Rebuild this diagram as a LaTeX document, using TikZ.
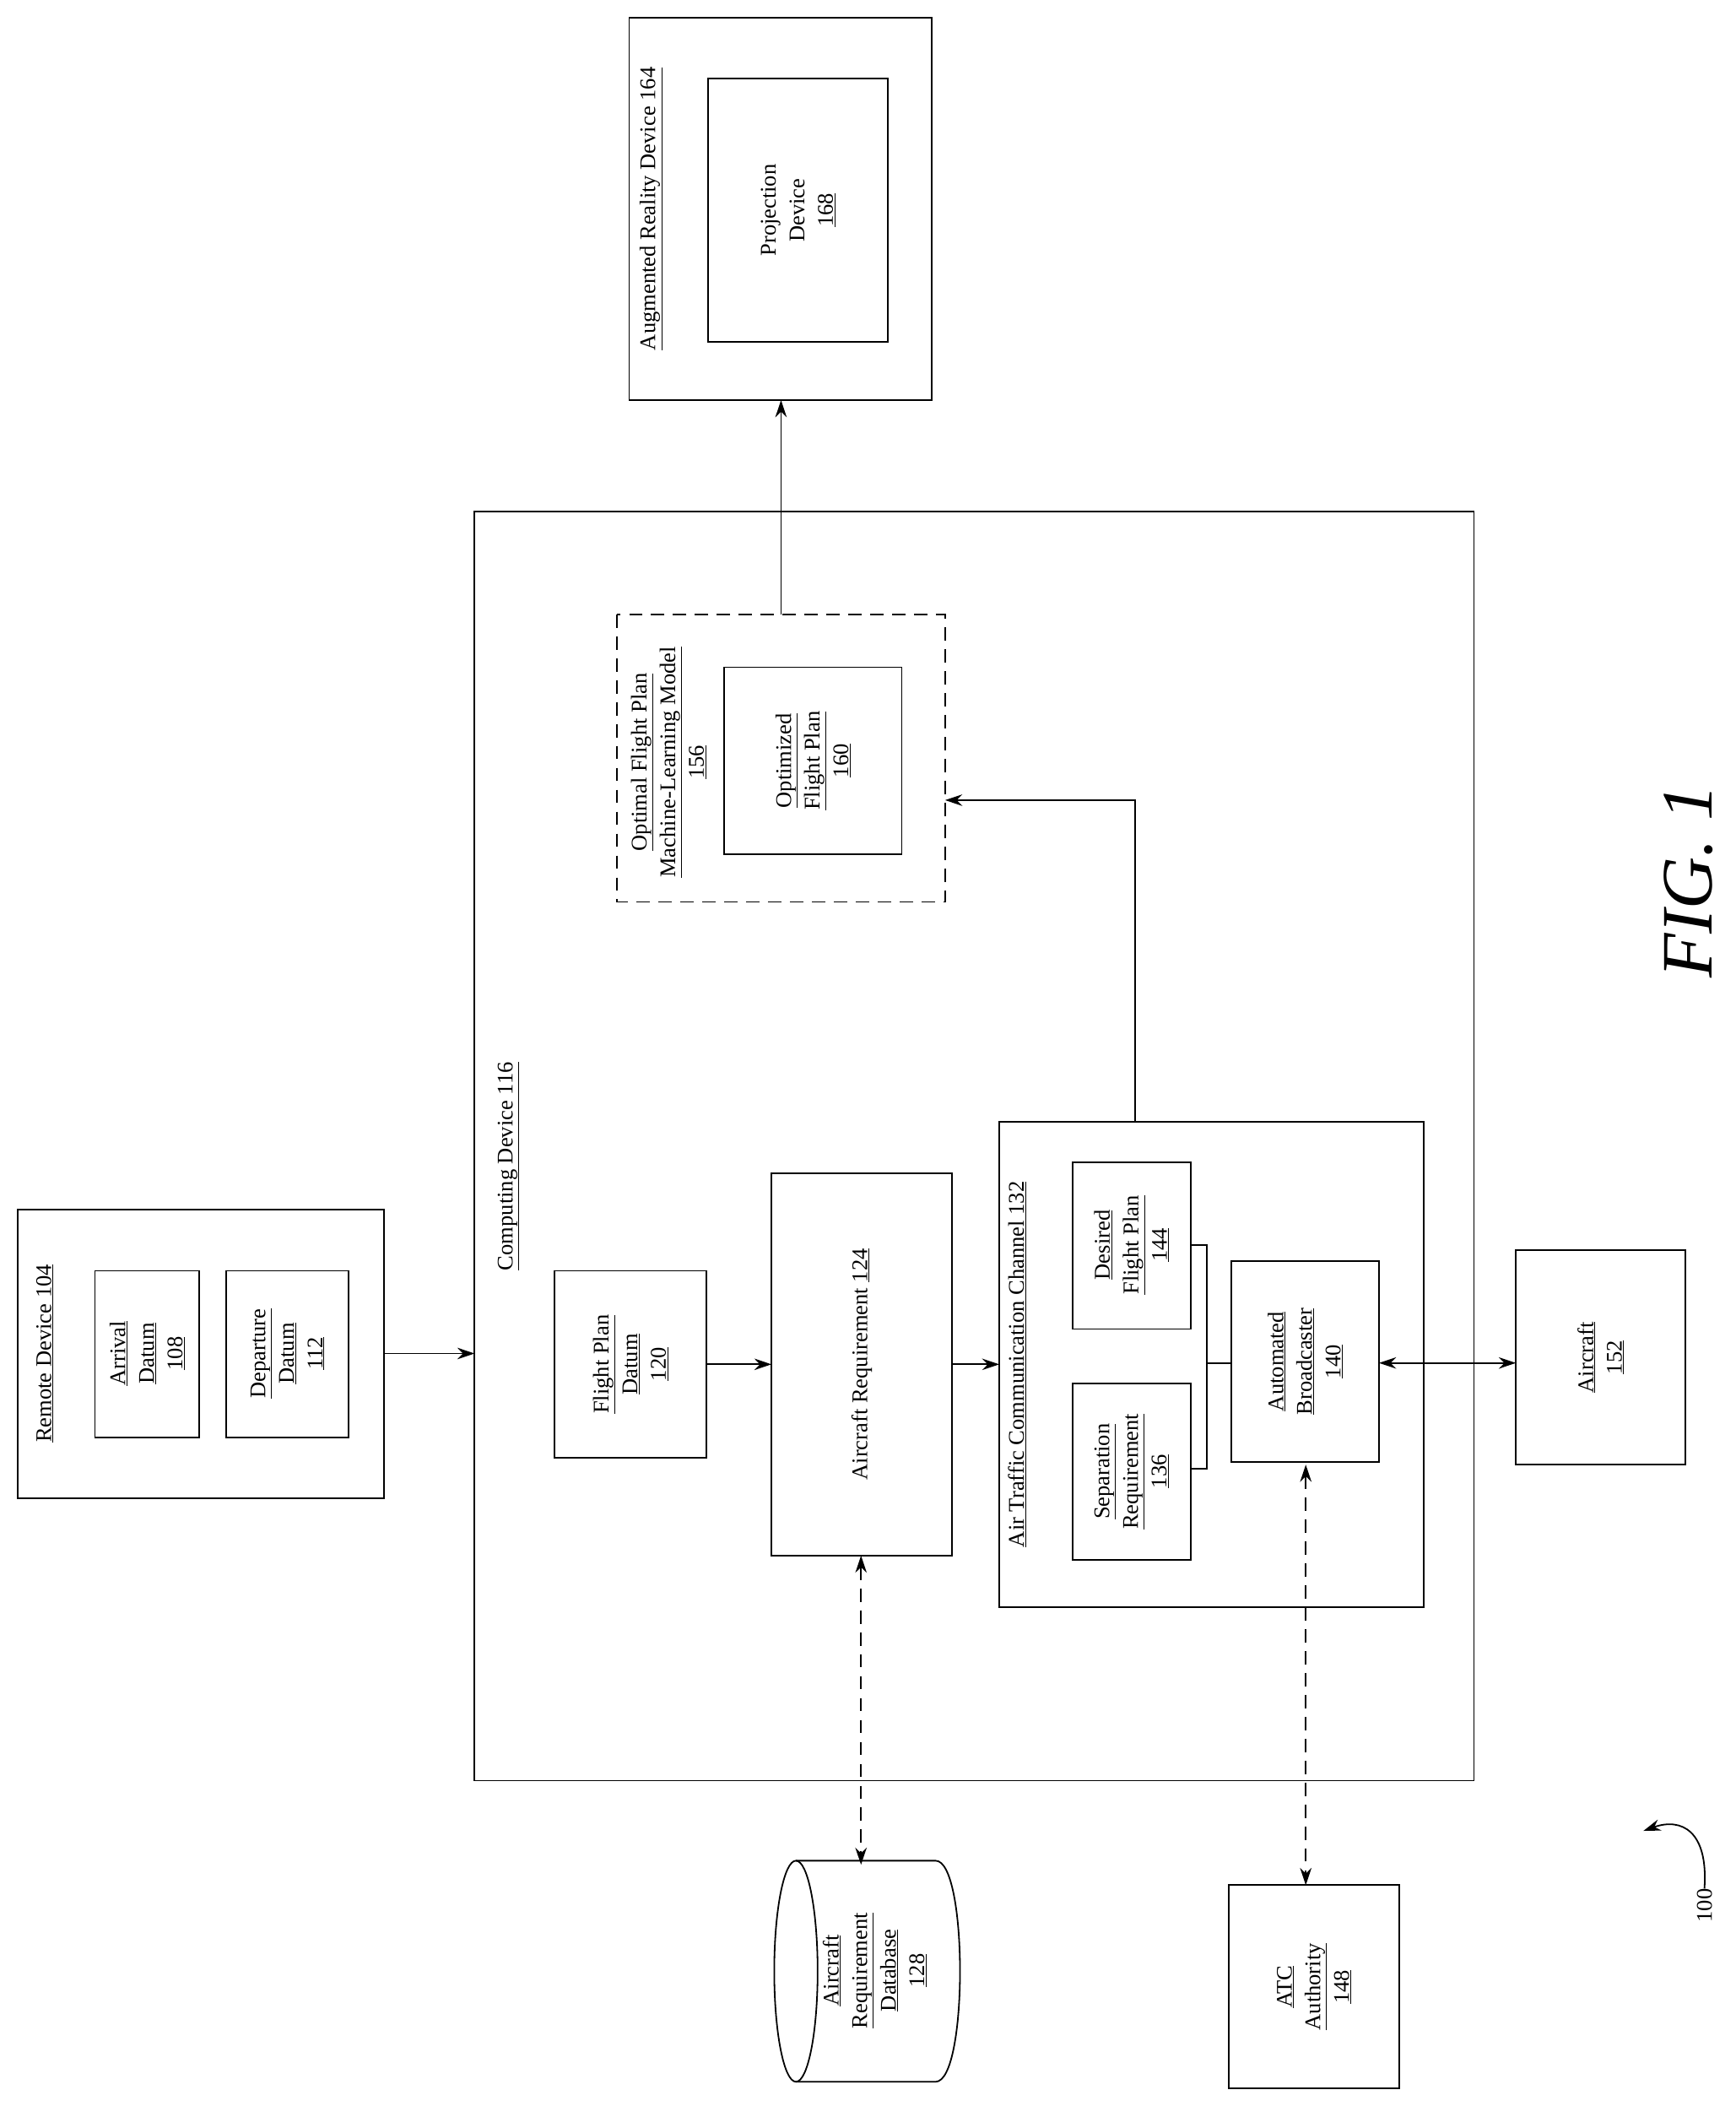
\documentclass[tikz,border=0pt]{standalone}
\usepackage{fontspec}
\setmainfont{Liberation Serif}
\usetikzlibrary{arrows.meta}
\newcommand{\ul}[1]{\underline{#1}}
\begin{document}
\begin{tikzpicture}[x=0.05cm,y=-0.05cm,
 box/.style={draw,line width=1.6pt},
 lab/.style={rotate=90,align=center,font=\fontsize{23.5}{30}\selectfont,inner sep=0},
 ar/.style={line width=1.6pt,-{Stealth[length=18pt,width=12pt]}},
 dar/.style={line width=1.6pt,{Stealth[length=18pt,width=12pt]}-{Stealth[length=18pt,width=12pt]},dash pattern=on 14pt off 9pt}]
\useasboundingbox (0,0) rectangle (1280,1561);
% Remote
\draw[box] (13,892) rectangle (283,1105);
\node[lab] (rl) at (33,998) {\ul{Remote Device 104}};
\draw[box] (70,937) rectangle (147,1060); \node[lab] at (108.5,998) {\ul{Arrival}\\\ul{Datum}\\\ul{108}};
\draw[box] (167,937) rectangle (257,1060); \node[lab] at (212,998) {\ul{Departure}\\\ul{Datum}\\\ul{112}};
\coordinate (r1) at (283,998); \coordinate (c1) at (350,998);
\draw[ar] (r1)--(c1);
% Computing
\draw[box] (350,377) rectangle (1087,1313);
\node[lab] at (375,860) {\ul{Computing Device 116}};
\draw[box] (409,937) rectangle (521,1075); \node[lab] at (465,1006) {\ul{Flight Plan}\\\ul{Datum}\\\ul{120}};
\draw[box] (569,865) rectangle (702,1147); \node[lab] at (635.5,1006) {Aircraft Requirement \ul{124}};
\coordinate (a1) at (521,1006); \coordinate (a2) at (569,1006);
\draw[ar] (a1)--(a2);
\coordinate (a3) at (702,1006); \coordinate (a4) at (737,1006);
\draw[ar] (a3)--(a4);
\draw[box] (737,827) rectangle (1050,1185);
\node[lab] at (750,1006) {\ul{Air Traffic Communication Channel 132}};
\draw[box] (791,857) rectangle (878,980); \node[lab] at (834.5,918) {\ul{Desired}\\\ul{Flight Plan}\\\ul{144}};
\draw[box] (791,1020) rectangle (878,1150); \node[lab] at (834.5,1085) {\ul{Separation}\\\ul{Requirement}\\\ul{136}};
\draw[box] (908,930) rectangle (1017,1078); \node[lab] at (962.5,1004) {\ul{Automated}\\\ul{Broadcaster}\\\ul{140}};
\draw[line width=1.6pt] (878,918)--(890,918)--(890,1083)--(878,1083);
\draw[line width=1.6pt] (890,1005)--(908,1005);
\draw[box] (1118,922) rectangle (1243,1080); \node[lab] at (1180.5,1001) {\ul{Aircraft}\\\ul{152}};
\coordinate (b1) at (1017,1005); \coordinate (b2) at (1118,1005);
\draw[ar,{Stealth[length=18pt,width=12pt]}-{Stealth[length=18pt,width=12pt]}] (b1)--(b2);
\coordinate (ch) at (837,827); \coordinate (op) at (697,590);
\draw[ar] (ch)--(837,590)--(op);
\draw[box,dash pattern=on 14pt off 9pt] (455,453) rectangle (697,665);
\node[lab] at (493,562) {\ul{Optimal Flight Plan}\\\ul{Machine-Learning Model}\\\ul{156}};
\draw[box] (534,492) rectangle (665,630); \node[lab] at (599.5,561) {\ul{Optimized}\\\ul{Flight Plan}\\\ul{160}};
\coordinate (o1) at (576,453); \coordinate (o2) at (576,295);
\draw[ar] (o1)--(o2);
\draw[box] (464,13) rectangle (687,295);
\node[lab] at (480,154) {\ul{Augmented Reality Device 164}};
\draw[box] (522,58) rectangle (655,252); \node[lab] at (588.5,155) {Projection\\Device\\\ul{168}};
% database
\coordinate (d1) at (635,1147); \coordinate (d2) at (635,1375);
\draw[dar] (d1)--(d2);
\draw[line width=1.6pt] (587,1372)--(690,1372) .. controls (714,1372) and (714,1535) .. (690,1535) -- (587,1535);
\draw[line width=1.6pt] (587,1453.5) ellipse[x radius=16,y radius=81.5];
\node[lab] at (645,1453) {\ul{Aircraft}\\\ul{Requirement}\\\ul{Database}\\\ul{128}};
\coordinate (e1) at (963,1080); \coordinate (e2) at (963,1390);
\draw[dar] (e1)--(e2);
\draw[box] (906,1390) rectangle (1032,1540); \node[lab] at (969,1465) {\ul{ATC}\\\ul{Authority}\\\ul{148}};
% 100
\node[lab] (n100) at (1257,1405) {100};
\coordinate (p100) at (1212,1350);
\draw[line width=1.6pt,-{Stealth[length=18pt,width=12pt]}] (n100.east) .. controls (1260,1350) and (1240,1340) .. (p100);
\node[rotate=90,font=\fontsize{76}{84}\selectfont\itshape] at (1245,650) {FIG. 1};
\end{tikzpicture}
\end{document}
